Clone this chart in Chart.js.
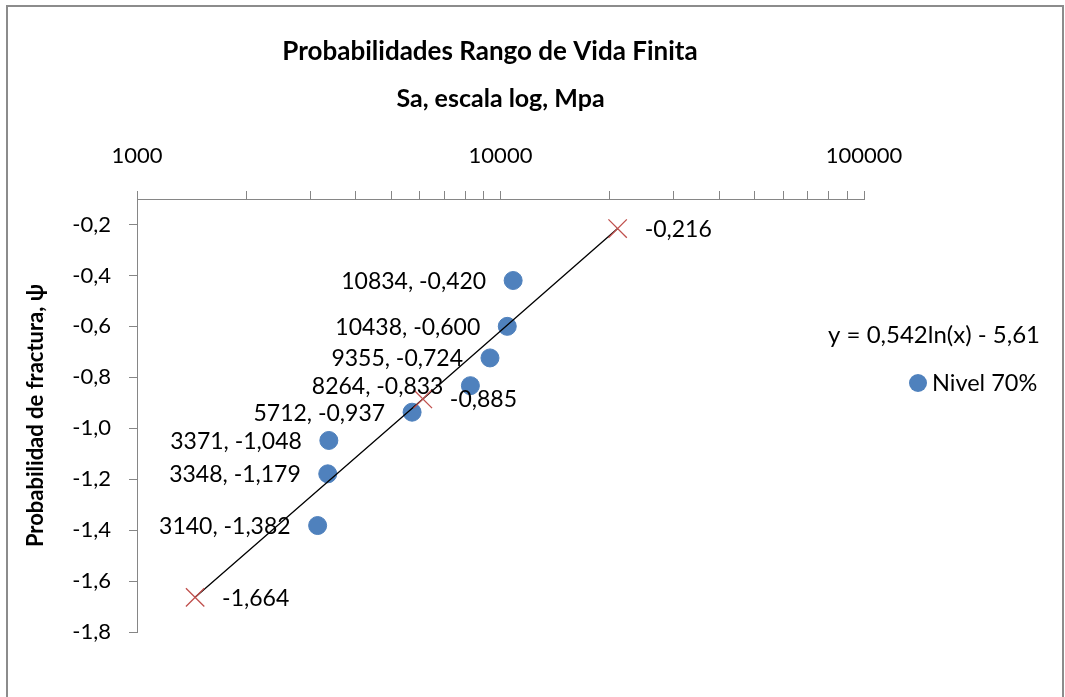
<!DOCTYPE html>
<html>
<head>
<meta charset="utf-8">
<title>Probabilidades Rango de Vida Finita</title>
<script src="https://cdn.jsdelivr.net/npm/chart.js@4/dist/chart.umd.min.js"></script>
<style>
    body { margin: 0; background: #fff; }
    #chart { display: block; }
</style>
</head>
<body>
<canvas id="chart" width="1065" height="697"></canvas>
<script>
// Nivel 70% - Sa (MPa) vs probabilidad de fractura
const saValues = [3140, 3348, 3371, 5712, 8264, 9355, 10438, 10834];
const psiValues = [-1.382, -1.179, -1.048, -0.937, -0.833, -0.724, -0.600, -0.420];

// puntos de la recta de ajuste (marcas X)
const fitSa = [1445, 6115, 21000];
const fitPsi = [-1.664, -0.885, -0.216];

const xMajorTicks = [1000, 10000, 100000];
const xMinorTicks = [2000, 3000, 4000, 5000, 6000, 7000, 8000, 9000,
                     20000, 30000, 40000, 50000, 60000, 70000, 80000, 90000];
const yTicks = [-1.8, -1.6, -1.4, -1.2, -1.0, -0.8, -0.6, -0.4, -0.2];

const seriesName = 'Nivel 70%';
const fitEquation = 'y = 0,542ln(x) - 5,61';

const AXIS_GREY = '#868686';
const BLUE = '#4F81BD';
const RED = '#C0504D';

Chart.defaults.font.family = 'Lato';
Chart.defaults.font.size = 22;
Chart.defaults.color = '#000';

const comma = (v, d) => v.toFixed(d).replace('.', ',');

// etiquetas de datos, leyenda y marco (como en Excel)
const excelExtras = {
    id: 'excelExtras',
    beforeDraw(c) {
        const ctx = c.ctx;
        ctx.save();
        ctx.fillStyle = '#fff';
        ctx.fillRect(0, 0, c.width, c.height);
        ctx.strokeStyle = '#8c8c8c';
        ctx.lineWidth = 2;
        ctx.strokeRect(7, 6, 1056, 720);
        ctx.restore();
    },
    afterDatasetsDraw(c) {
        const ctx = c.ctx;
        ctx.save();
        ctx.font = '23px Lato';
        ctx.fillStyle = '#000';
        ctx.textBaseline = 'middle';

        ctx.textAlign = 'right';
        c.getDatasetMeta(0).data.forEach((p, i) => {
            ctx.fillText(saValues[i] + ', ' + comma(psiValues[i], 3), p.x - 27, p.y + 1);
        });

        ctx.textAlign = 'left';
        c.getDatasetMeta(1).data.forEach((p, i) => {
            ctx.fillText(comma(fitPsi[i], 3), p.x + 27, p.y + 1);
        });

        // ecuacion de la linea de tendencia
        ctx.font = '24px Lato';
        ctx.textAlign = 'right';
        ctx.fillText(fitEquation, 1040, 335);

        // leyenda
        ctx.fillStyle = BLUE;
        ctx.beginPath();
        ctx.arc(918, 383, 9, 0, Math.PI * 2);
        ctx.fill();
        ctx.fillStyle = '#000';
        ctx.font = '23.5px Lato';
        ctx.textAlign = 'left';
        ctx.fillText(seriesName, 932, 383);
        ctx.restore();
    }
};

new Chart(document.getElementById('chart'), {
    type: 'scatter',
    data: {
        datasets: [
            {
                label: seriesName,
                data: saValues.map((x, i) => ({ x: x, y: psiValues[i] })),
                backgroundColor: BLUE,
                borderColor: BLUE,
                pointRadius: 9,
                pointHoverRadius: 9,
                borderWidth: 1,
                order: 2
            },
            {
                label: 'Ajuste',
                data: fitSa.map((x, i) => ({ x: x, y: fitPsi[i] })),
                showLine: true,
                borderColor: '#000',
                borderWidth: 1.3,
                pointStyle: 'crossRot',
                pointRadius: 13,
                pointHoverRadius: 13,
                pointBorderColor: RED,
                pointBorderWidth: 1.3,
                order: 1
            }
        ]
    },
    options: {
        responsive: false,
        animation: false,
        devicePixelRatio: 1,
        layout: {
            padding: { top: 0, left: 0, right: 85, bottom: 65 }
        },
        plugins: {
            legend: { display: false },
            tooltip: { enabled: false },
            title: {
                display: true,
                text: 'Probabilidades Rango de Vida Finita',
                font: { size: 26, weight: 'bold' },
                color: '#000',
                padding: { top: 36, bottom: 16.8 }
            }
        },
        scales: {
            x: {
                type: 'logarithmic',
                position: 'top',
                min: 1000,
                max: 100000,
                afterBuildTicks: (scale) => {
                    scale.ticks = xMajorTicks.concat(xMinorTicks)
                        .sort((a, b) => a - b)
                        .map(v => ({ value: v }));
                },
                afterFit: (scale) => { scale.height = 115; },
                ticks: {
                    autoSkip: false,
                    maxRotation: 0,
                    padding: 22,
                    callback: (v) => xMajorTicks.includes(v) ? String(v) : ''
                },
                grid: {
                    drawOnChartArea: false,
                    tickLength: 8,
                    color: AXIS_GREY
                },
                border: { color: AXIS_GREY, width: 1 },
                title: {
                    display: true,
                    text: 'Sa, escala log, Mpa',
                    font: { size: 25, weight: 'bold' },
                    padding: { top: 0, bottom: 0 }
                }
            },
            y: {
                min: -1.8,
                max: -0.1,
                afterBuildTicks: (scale) => {
                    scale.ticks = yTicks.map(v => ({ value: v }));
                },
                afterFit: (scale) => { scale.width = 137; },
                ticks: {
                    padding: 18,
                    callback: (v) => comma(v, 1)
                },
                grid: {
                    drawOnChartArea: false,
                    tickLength: 8,
                    color: AXIS_GREY
                },
                border: { color: AXIS_GREY, width: 1 },
                title: {
                    display: true,
                    text: 'Probabilidad de fractura, ψ',
                    font: { size: 22, weight: 'bold' },
                    padding: { top: 23, bottom: 0 }
                }
            },
            // espacio a la derecha para la leyenda
            legendSpace: {
                type: 'linear',
                axis: 'y',
                position: 'right',
                ticks: { display: false },
                grid: { display: false },
                border: { display: false },
                afterFit: (scale) => { scale.width = 116; }
            }
        }
    },
    plugins: [excelExtras]
});
</script>
</body>
</html>
